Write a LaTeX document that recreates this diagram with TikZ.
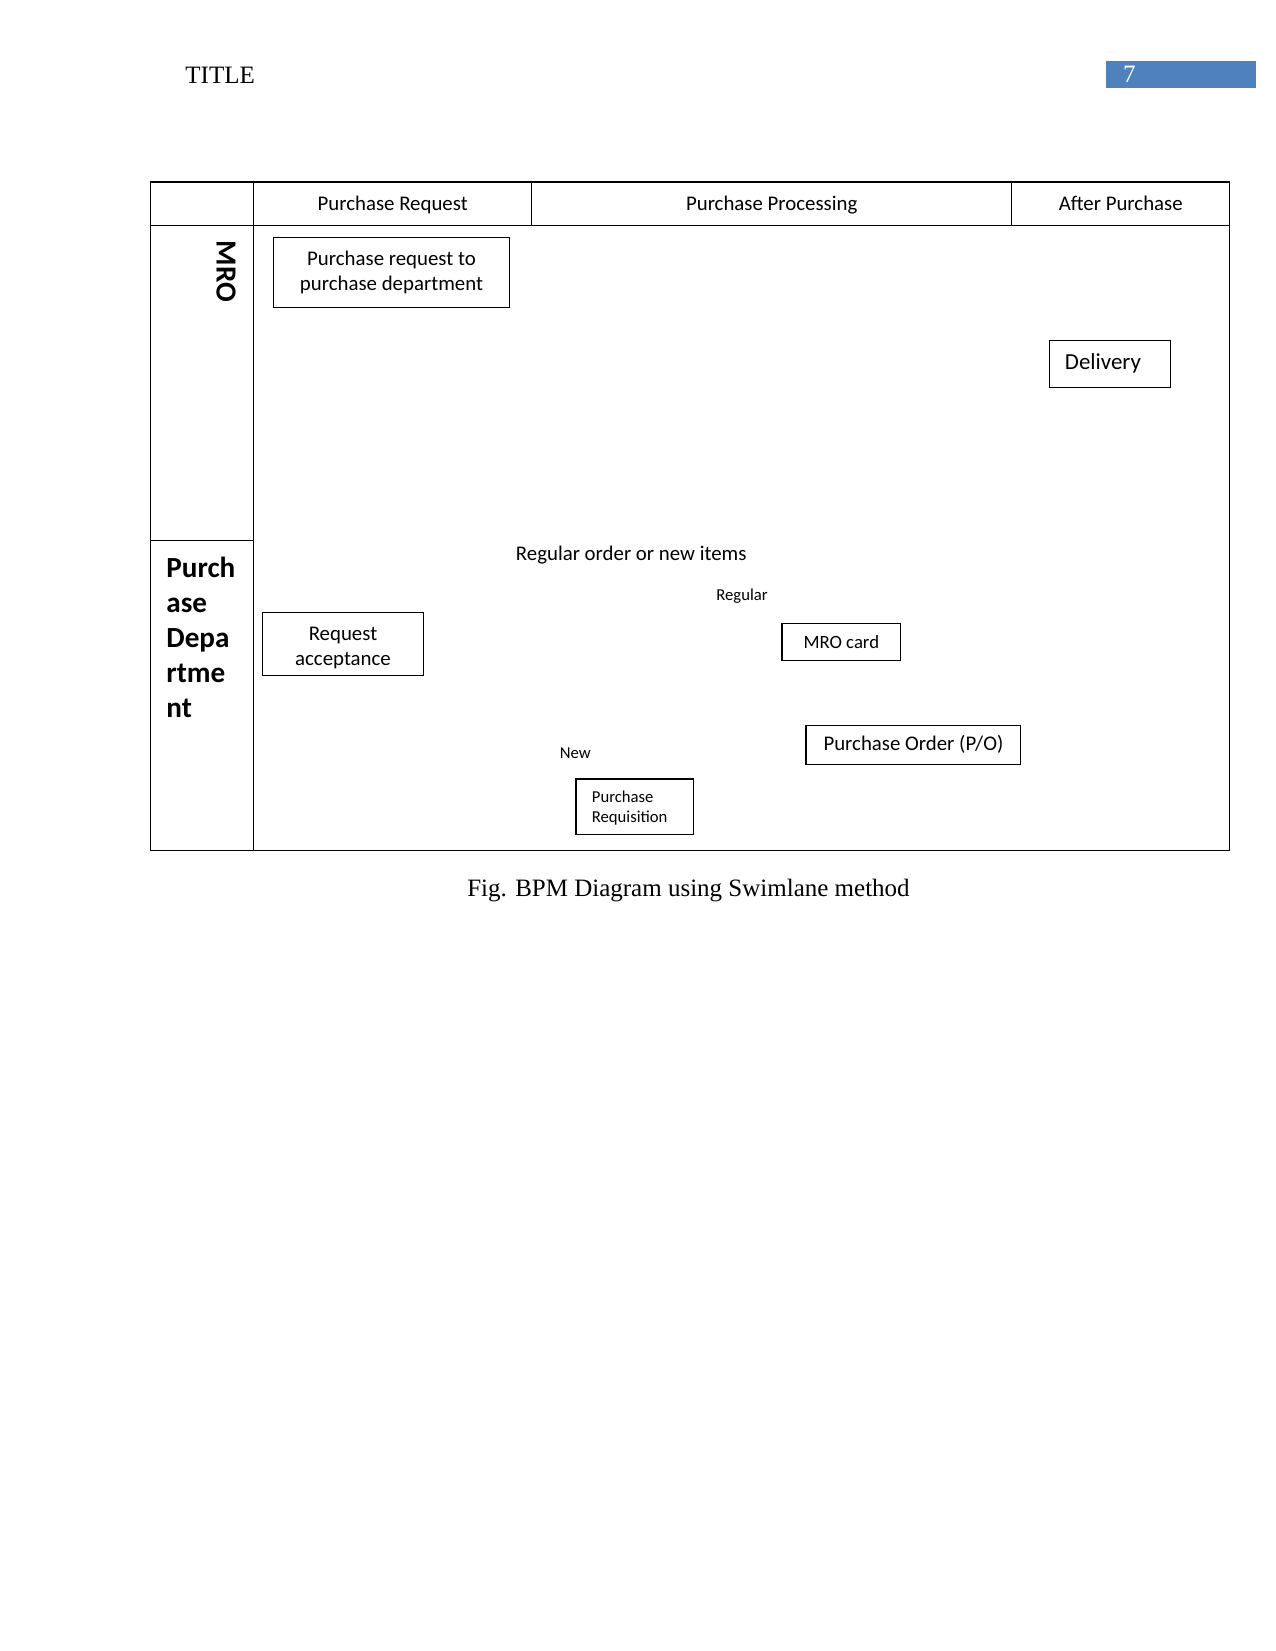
\documentclass[tikz,border=0pt]{standalone}
\usepackage{fontspec}
\setmainfont{Liberation Serif}
\newfontfamily\carl{Carlito}
\definecolor{hdrblue}{HTML}{4F81BD}
\newcommand{\lowered}[3]{\raisebox{-#1}[\height][\depth]{\begin{tabular}{@{}#2@{}}#3\end{tabular}}}
\tikzset{
  ln/.style={line width=0.6pt},
  box/.style={draw, line width=0.6pt, inner sep=0pt, align=center, font=\carl\fontsize{10pt}{12pt}\selectfont},
  lbl/.style={inner sep=0pt, anchor=base, font=\carl\fontsize{10pt}{12pt}\selectfont},
  small/.style={lbl, font=\carl\fontsize{8pt}{9.8pt}\selectfont},
  lane/.style={inner sep=0pt, anchor=base west, font=\carl\bfseries\fontsize{14pt}{17pt}\selectfont},
  serif/.style={inner sep=0pt, font=\fontsize{12pt}{14pt}\selectfont},
}
\begin{document}
\begin{tikzpicture}[x=0.48pt,y=-0.48pt]
\useasboundingbox (0,0) rectangle (1275,1651);
% page header
\fill[hdrblue] (1106,61) rectangle (1255.5,88.3);
\node[serif, anchor=base west, text=white] (pg) at (1122.7,82.7) {7};
\node[serif, anchor=base west] (title) at (185,83.3) {TITLE};
% table frame
\draw[ln] (150.5,182) rectangle (1229.7,850.7);
\draw[ln] (150.5,225.3) -- (1229.7,225.3);
\draw[ln] (253.7,182) -- (253.7,850.7);
\draw[ln] (531.7,182) -- (531.7,225.3);
\draw[ln] (1011.8,182) -- (1011.8,225.3);
\draw[ln] (150.5,540.3) -- (253.7,540.3);
% column headers
\node[lbl] (h1) at (392.7,211) {Purchase Request};
\node[lbl] (h2) at (771.7,211) {Purchase Processing};
\node[lbl] (h3) at (1120.7,211) {After Purchase};
% lane labels
\node[inner sep=0pt, rotate=-90, font=\carl\bfseries\fontsize{14pt}{17pt}\selectfont] (mro) at (226.2,271.2) {MRO};
\node[lane] (pd1) at (166,577) {Purch};
\node[lane] (pd2) at (166,612) {ase};
\node[lane] (pd3) at (166,647) {Depa};
\node[lane] (pd4) at (166,682) {rtme};
\node[lane] (pd5) at (166,717) {nt};
% boxes
\node[box, minimum width=113.5pt, minimum height=33.6pt] (prq) at (391.5,272.3) {Purchase request to\\purchase department};
\node[box, font=\carl\fontsize{11pt}{13pt}\selectfont, minimum width=58.3pt, minimum height=22.6pt, inner xsep=7.5pt, text width=43.3pt, align=left] (del) at (1110,363.8) {\raisebox{-0.5pt}{Delivery}};
\node[box, minimum width=77.5pt, minimum height=30.2pt] (acc) at (343,643.8) {\lowered{2pt}{c}{Request\\acceptance}};
\node[box, font=\carl\fontsize{9pt}{11pt}\selectfont, minimum width=56.9pt, minimum height=17.8pt] (card) at (841.3,641.8) {\raisebox{-0.5pt}{MRO card}};
\node[box, minimum width=103pt, minimum height=18.7pt] (po) at (913.4,744.8) {\raisebox{-1pt}{Purchase Order (P/O)}};
\node[box, font=\carl\fontsize{8pt}{9.6pt}\selectfont, minimum width=56.4pt, minimum height=26.5pt, inner xsep=7.6pt, text width=41.2pt, align=left] (req) at (634.8,806.7) {\lowered{1pt}{l}{Purchase\\Requisition}};
% free labels
\node[lbl] (q) at (631.2,560) {Regular order or new items};
\node[small] (reg) at (742,600) {Regular};
\node[small] (new) at (575.3,758.3) {New};
% caption
\node[serif, anchor=base] (cap) at (688.5,896) {Fig. BPM Diagram using Swimlane method};
\end{tikzpicture}
\end{document}
